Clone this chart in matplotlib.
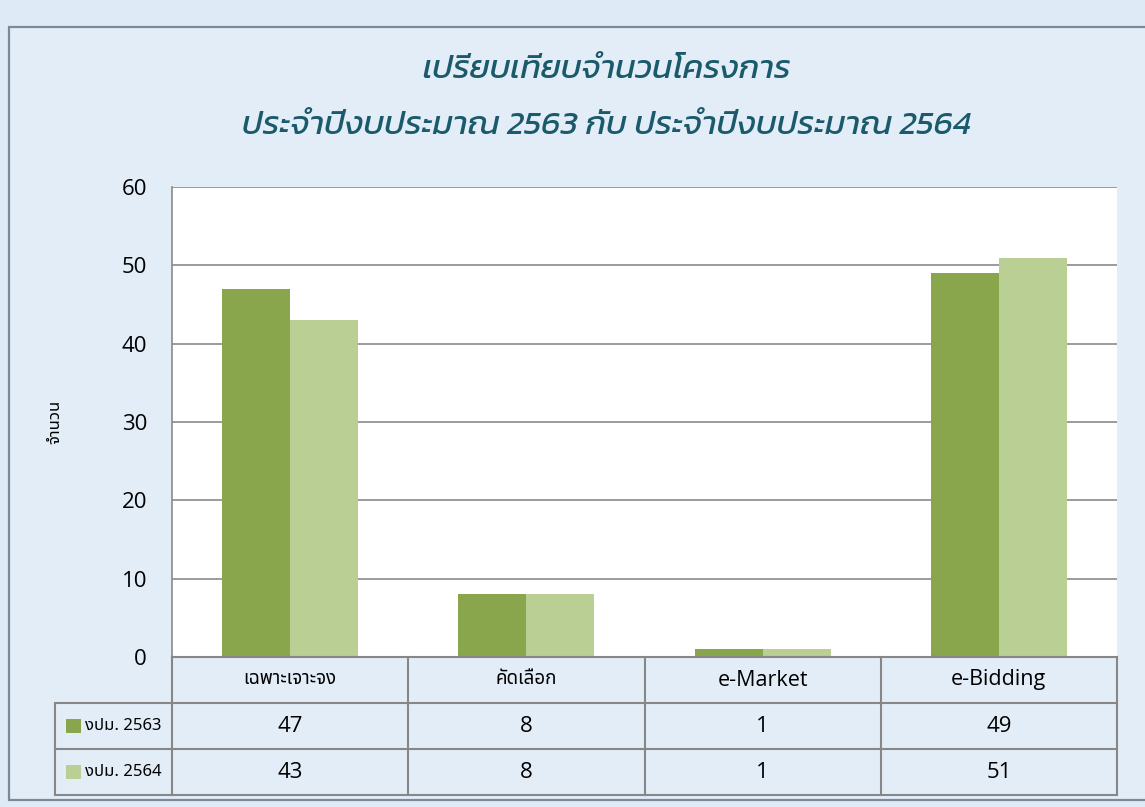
import matplotlib
matplotlib.use("Agg")
import matplotlib.pyplot as plt
from matplotlib.patches import Rectangle
import numpy as np

categories = ["เฉพาะเจาะจง", "คัดเลือก", "e-Market", "e-Bidding"]
series_names = ["งปม. 2563", "งปม. 2564"]
values_2563 = [47, 8, 1, 49]
values_2564 = [43, 8, 1, 51]
yticks = [0, 10, 20, 30, 40, 50, 60]
title_lines = ["เปรียบเทียบจำนวนโครงการ", "ประจำปีงบประมาณ 2563 กับ ประจำปีงบประมาณ 2564"]
ylabel = "จำนวน"

c_dark = "#8aa64d"
c_light = "#b9cf94"
grid_c = "#8a8a8a"
THAI_L = ["Noto Sans Thai", "Loma", "DejaVu Sans"]
LATIN = ["Open Sans", "Noto Sans Thai", "DejaVu Sans"]
TITLE = ["Kanit", "Noto Sans Thai", "DejaVu Sans"]

W, H = 1145, 807
fig = plt.figure(figsize=(W/100, H/100), dpi=100)
fig.patch.set_facecolor("#deebf7")

def fx(px): return px / W
def fy(py): return 1 - py / H

# outer frame
frame = Rectangle((fx(9), fy(800)), fx(1160) - fx(9), fy(27) - fy(800),
                  transform=fig.transFigure, facecolor="#e2edf8",
                  edgecolor="#7d8995", linewidth=1.6, zorder=-5)
fig.patches.append(frame)

# titles
fig.text(0.530, fy(70), title_lines[0], ha="center", va="center", fontsize=24,
         style="italic", weight="normal", color="#1b5a6a", family=TITLE)
fig.text(0.530, fy(127), title_lines[1], ha="center", va="center", fontsize=24,
         style="italic", weight="normal", color="#1b5a6a", family=TITLE)

L, R, T, B = 172, 1117, 187, 657
ax = fig.add_axes([fx(L), fy(B), fx(R) - fx(L), fy(T) - fy(B)])
ax.set_facecolor("white")
x = np.arange(len(categories))
w = 0.288
ax.bar(x - w/2, values_2563, width=w, color=c_dark, zorder=3)
ax.bar(x + w/2, values_2564, width=w, color=c_light, zorder=3)
ax.set_xlim(-0.5, len(categories) - 0.5)
ax.set_ylim(0, 60)
ax.set_yticks(yticks)
ax.set_yticklabels([str(t) for t in yticks], family=LATIN, fontsize=16)
ax.set_xticks([])
for t in yticks:
    ax.axhline(t, color=grid_c, linewidth=1.2, zorder=1)
for s in ["top", "right", "bottom"]:
    ax.spines[s].set_visible(False)
ax.spines["left"].set_color(grid_c)
ax.spines["left"].set_linewidth(1.2)
ax.tick_params(axis="y", length=0, pad=18)
ax.set_ylabel(ylabel, family=THAI_L, fontsize=12, labelpad=42)

# data table
TB = 795
tab = fig.add_axes([fx(L), fy(TB), fx(R) - fx(L), fy(B) - fy(TB)])
tab.set_xlim(-0.5, len(categories) - 0.5)
tab.set_ylim(0, 3)
tab.axis("off")
lx = -0.5 - (L - 55) / ((R - L) / len(categories))
lc = "#878787"
lw = 1.5
tab.plot([-0.5, 3.5], [3, 3], color=lc, lw=lw, clip_on=False)
for yy in [2, 1, 0]:
    tab.plot([lx, 3.5], [yy, yy], color=lc, lw=lw, clip_on=False)
tab.plot([lx, lx], [0, 2], color=lc, lw=lw, clip_on=False)
for xx in np.arange(len(categories) + 1) - 0.5:
    tab.plot([xx, xx], [0, 3], color=lc, lw=lw, clip_on=False)

for i, c in enumerate(categories):
    if c.startswith("e-"):
        tab.text(i, 2.5, c, ha="center", va="center", fontsize=15.5, family=LATIN, color="black")
    else:
        tab.text(i, 2.52, c, ha="center", va="center", fontsize=13.5, family=THAI_L, color="black")
    tab.text(i, 1.5, str(values_2563[i]), ha="center", va="center", fontsize=16, family=LATIN)
    tab.text(i, 0.5, str(values_2564[i]), ha="center", va="center", fontsize=16, family=LATIN)

for j, (name, col) in enumerate(zip(series_names, [c_dark, c_light])):
    yy = 1.5 - j
    tab.add_patch(Rectangle((lx + 0.045, yy - 0.16), 0.065, 0.32, facecolor=col,
                            edgecolor="none", clip_on=False))
    tab.text(lx + 0.125, yy, name, ha="left", va="center", fontsize=12, family=THAI_L)

fig.savefig("out.png", dpi=100, facecolor=fig.get_facecolor())
